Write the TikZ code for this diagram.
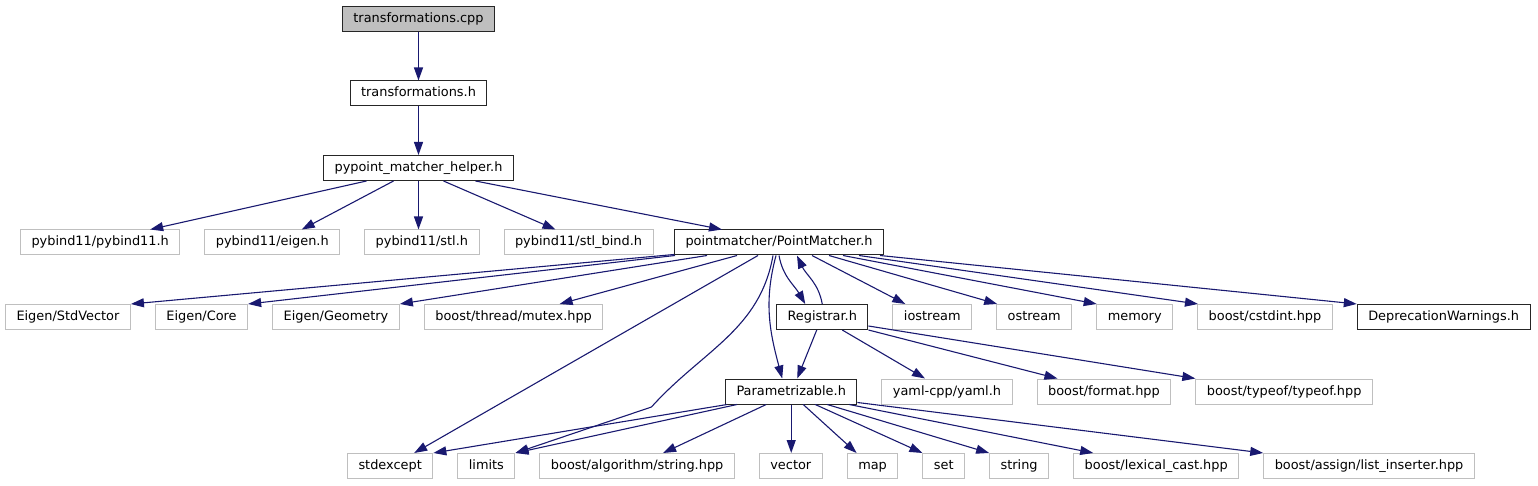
\documentclass[tikz,border=0pt]{standalone}
\usepackage{fontspec}
\setmainfont{DejaVu Sans}
\usepackage{tikz}
\usetikzlibrary{positioning,arrows.meta}
\definecolor{edgeblue}{HTML}{191970}
\definecolor{greyline}{HTML}{BFBFBF}
\tikzstyle{file}=[rectangle, draw=black!85, line width=1pt, fill=white, text=black,
        inner xsep=11pt, inner ysep=0pt, minimum height=25pt, text height=9.5pt, text depth=2.5pt,
        font=\fontsize{12.9}{15}\selectfont]
\tikzstyle{root}=[file, fill=greyline]
\tikzstyle{extern}=[file, draw=greyline]
\tikzstyle{myarrow}=[->, >={Triangle[length=13pt,width=9pt]}, draw=edgeblue, line width=1.1pt]

\begin{document}
\begin{tikzpicture}[x=1pt, y=1pt, node distance=48.5pt and 24pt]
    \useasboundingbox (0,0) rectangle (1538,485);
    % include chain
    \node (cpp) [root] at (418.5,466) {transformations.cpp};
    \node (th) [file, below=of cpp] {transformations.h};
    \node (helper) [file, below=of th] {pypoint\_matcher\_helper.h};
    % row of helper includes
    \node (pyb) [extern, anchor=west] at (20,242.5) {pybind11/pybind11.h};
    \node (pyeigen) [extern, right=of pyb] {pybind11/eigen.h};
    \node (pystl) [extern, right=of pyeigen] {pybind11/stl.h};
    \node (pybind) [extern, right=of pystl] {pybind11/stl\_bind.h};
    \node (PM) [file, anchor=west] at (674,242.5) {pointmatcher/PointMatcher.h};
    % row of PointMatcher includes
    \node (StdVector) [extern, anchor=west] at (5,168) {Eigen/StdVector};
    \node (Core) [extern, right=of StdVector] {Eigen/Core};
    \node (Geometry) [extern, right=of Core] {Eigen/Geometry};
    \node (Mutex) [extern, right=of Geometry] {boost/thread/mutex.hpp};
    \node (Registrar) [file, anchor=west] at (776,168) {Registrar.h};
    \node (iostream) [extern, right=of Registrar] {iostream};
    \node (ostream) [extern, right=of iostream] {ostream};
    \node (memory) [extern, right=of ostream] {memory};
    \node (cstdint) [extern, right=of memory] {boost/cstdint.hpp};
    \node (Deprecation) [file, right=of cstdint] {DeprecationWarnings.h};
    % row of Registrar includes
    \node (Param) [file, anchor=west] at (725,93.5) {Parametrizable.h};
    \node (yaml) [extern, right=of Param] {yaml-cpp/yaml.h};
    \node (format) [extern, right=of yaml] {boost/format.hpp};
    \node (typeof) [extern, right=of format] {boost/typeof/typeof.hpp};
    % row of Parametrizable includes
    \node (stdexcept) [extern, anchor=west] at (347,19) {stdexcept};
    \node (limits) [extern, right=of stdexcept] {limits};
    \node (algstring) [extern, right=of limits] {boost/algorithm/string.hpp};
    \node (vector) [extern, right=of algstring] {vector};
    \node (map) [extern, right=of vector] {map};
    \node (set) [extern, right=of map] {set};
    \node (string) [extern, right=of set] {string};
    \node (lexical) [extern, right=of string] {boost/lexical\_cast.hpp};
    \node (inserter) [extern, right=of lexical] {boost/assign/list\_inserter.hpp};

    \draw[myarrow] (cpp) -- (th);
    \draw[myarrow] (th) -- (helper);
    \draw[myarrow] ([xshift=-52pt]helper.south) -- ([xshift=50pt]pyb.north);
    \draw[myarrow] ([xshift=-25pt]helper.south) -- ([xshift=29.5pt]pyeigen.north);
    \draw[myarrow] (helper.south) -- (helper.south |- pystl.north);
    \draw[myarrow] ([xshift=25pt]helper.south) -- ([xshift=-23pt]pybind.north);
    \draw[myarrow] ([xshift=57pt]helper.south) -- ([xshift=-57pt]PM.north);

    \draw[myarrow] ([yshift=1pt]PM.south west) -- (StdVector.north east);
    \draw[myarrow] ([xshift=1pt]PM.south west) -- (Core.north east);
    \draw[myarrow] ([xshift=33pt]PM.south west) -- (Geometry.north east);
    \draw[myarrow] ([xshift=-42pt]PM.south) -- ([xshift=46pt]Mutex.north);
    \draw[myarrow] ([xshift=-21pt]PM.south) -- ([xshift=24pt]stdexcept.north);
    \coordinate (limbend) at ([shift={(136pt,46pt)}]limits.north east);
    \draw[myarrow] ([xshift=-6pt]PM.south) to[out=-100, in=48] (limbend) -- (limits.north east);
    \draw[myarrow] ([xshift=-3pt]PM.south) to[out=-105, in=105] ([xshift=-9pt]Param.north);
    \draw[myarrow] ([xshift=0pt]PM.south) to[out=-80, in=120] ([xshift=-17pt]Registrar.north);
    \draw[myarrow] (Registrar.north) to[out=100, in=-65] ([xshift=18pt]PM.south);
    \draw[myarrow] ([xshift=33pt]PM.south) -- ([xshift=-27pt]iostream.north);
    \draw[myarrow] ([xshift=50pt]PM.south) -- ([xshift=-37pt]ostream.north);
    \draw[myarrow] ([xshift=64pt]PM.south) -- ([xshift=-38pt]memory.north);
    \draw[myarrow] ([xshift=80pt]PM.south) -- ([xshift=-67pt]cstdint.north);
    \draw[myarrow] ([xshift=-4pt]PM.south east) -- (Deprecation.north west);

    \draw[myarrow] ([xshift=-5.5pt]Registrar.south) -- ([xshift=6pt]Param.north);
    \draw[myarrow] ([xshift=20pt]Registrar.south) -- ([xshift=-22pt]yaml.north);
    \draw[myarrow] (Registrar.south east) -- ([xshift=-46.5pt]format.north);
    \draw[myarrow] ([yshift=4pt]Registrar.south east) -- (typeof.north west);

    \draw[myarrow] ([xshift=2pt]Param.south west) -- (stdexcept.north east);
    \draw[myarrow] ([xshift=12pt]Param.south west) -- (limits.north east);
    \draw[myarrow] ([xshift=-25pt]Param.south) -- ([xshift=26pt]algstring.north);
    \draw[myarrow] (Param.south) -- (Param.south |- vector.north);
    \draw[myarrow] ([xshift=12pt]Param.south) -- ([xshift=-16pt]map.north);
    \draw[myarrow] ([xshift=24pt]Param.south) -- (set.north west);
    \draw[myarrow] ([xshift=36pt]Param.south) -- (string.north west);
    \draw[myarrow] ([xshift=58pt]Param.south) -- ([xshift=-63pt]lexical.north);
    \draw[myarrow] ([yshift=2pt]Param.south east) -- (inserter.north west);
\end{tikzpicture}
\end{document}
